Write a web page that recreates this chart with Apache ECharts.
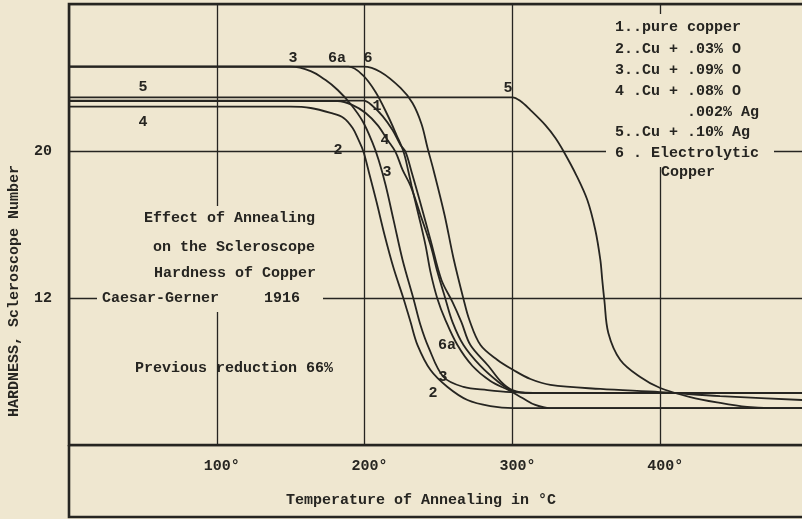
<!DOCTYPE html>
<html><head><meta charset="utf-8">
<script src="https://cdn.jsdelivr.net/npm/echarts@6/dist/echarts.min.js"></script>
<style>html,body{margin:0;padding:0;background:#efe7d0}#c{width:802px;height:519px}</style>
</head><body><div id="c"></div><script>
// Temperature (°C) vs Scleroscope hardness
const curve1 = [[0,22.74],[199.3,22.74],[205.4,22.45],[212.2,21.9],[218.9,21.14],[224.3,20.33],[227.7,19.95],[231.8,18.86],[237.2,17.33],[244.6,15.16],[252.0,12.98],[259.5,11.78],[265.5,10.69],[271.6,9.44],[283.8,8.3],[291.9,7.48],[300,6.99],[312.2,6.83],[500,6.83]];
const curve2 = [[0,22.41],[150,22.41],[163.5,22.34],[177,22.07],[185.8,21.8],[191.9,21.25],[195.9,20.6],[199.3,19.95],[203.4,18.69],[208.1,17.22],[213.5,15.43],[219.6,13.63],[226.4,11.95],[231.1,10.69],[235.8,9.44],[244.6,8.08],[256.1,7.16],[269.6,6.45],[285.1,6.12],[300.7,6.01],[500,6.01]];
const curve3 = [[0,24.59],[150,24.59],[163.5,24.35],[173.6,23.86],[181.8,23.32],[190.5,22.56],[198.6,21.63],[205.4,20.44],[209.5,19.51],[214.2,18.15],[219.6,16.24],[225.7,14.07],[233.1,11.95],[237.8,10.53],[243.2,9.33],[253.4,7.7],[266.9,7.16],[283.1,6.99],[298.6,6.88],[320,6.84],[500,6.83]];
const curve4 = [[0,22.72],[181.8,22.72],[191.9,22.5],[200.7,22.07],[208.8,21.41],[215.5,20.6],[220.9,19.95],[225.7,18.97],[231.1,18.1],[237.8,16.52],[244.6,14.88],[249.3,13.41],[254.7,11.95],[259.5,10.69],[266.9,9.44],[278.4,8.3],[290.5,7.43],[300,6.94],[312.2,6.83],[500,6.83]];
const curve5 = [[0,22.92],[300,22.92],[305.4,22.72],[312.2,22.23],[322.3,21.41],[329.1,20.71],[334.5,20],[343.2,18.69],[350.7,17.33],[356.1,15.7],[359.5,14.07],[360.8,12.98],[362.2,11.89],[364.9,10.1],[373,8.63],[386.5,7.7],[400,7.1],[420.3,6.61],[440.5,6.29],[458.8,6.07],[474.3,6.01],[500,6.01]];
const curve6 = [[0,24.59],[199.3,24.59],[210.8,24.3],[224.3,23.43],[232.4,22.61],[238.5,21.47],[242.6,20.16],[246.6,18.97],[254.1,16.52],[260.1,14.18],[266.9,11.95],[270.9,10.8],[278.4,9.44],[289.9,8.63],[300.7,8.08],[312.2,7.59],[325.7,7.27],[359.5,7.05],[400,6.88],[440.5,6.66],[496,6.45],[500,6.43]];
const curve6a = [[0,24.59],[189.2,24.59],[198.6,24.14],[207.4,23.21],[215.5,21.96],[221.6,20.87],[226.4,19.95],[229.7,18.86],[231.8,18.1],[236.5,16.52],[241.2,14.88],[244.6,13.41],[249.3,11.95],[254.7,10.8],[262.8,9.44],[273,8.3],[285.1,7.48],[297.3,6.99],[306.8,6.56],[315.5,6.18],[325.7,6.01],[500,6.01]];
const curveLabels = [[151.6,25.06,'3'],[181.3,25.06,'6a'],[202.3,25.06,'6'],[50.1,23.48,'5'],[50.1,21.58,'4'],[208.4,22.45,'1'],[213.8,20.6,'4'],[215.2,18.86,'3'],[182.0,20.05,'2'],[297.0,23.43,'5'],[255.8,9.44,'6a'],[253.0,7.7,'3'],[246.3,6.83,'2']];
const xTickLabels = [100,200,300,400];
const yTickLabels = [12,20];
const legendLines = ['1..pure copper','2..Cu + .03% O','3..Cu + .09% O','4 .Cu + .08% O','        .002% Ag','5..Cu + .10% Ag','6 . Electrolytic'];
const noteLines = ['Effect of Annealing','on the Scleroscope','Hardness of Copper'];

const BG = '#efe7d0', INK = '#262521';
const FONT = '"Liberation Mono", "DejaVu Sans Mono", monospace';
const chart = echarts.init(document.getElementById('c'));
const curves = [curve1, curve2, curve3, curve4, curve5, curve6, curve6a];
const series = curves.map(d => ({
  type: 'line', data: d, symbol: 'none', smooth: 0.35,
  lineStyle: { color: INK, width: 1.8 }, z: 5, silent: true
}));
series.push({
  type: 'scatter', data: curveLabels, symbolSize: 1, itemStyle: { color: 'rgba(0,0,0,0)', opacity: 1 }, z: 6, silent: true,
  label: { show: true, position: 'inside', opacity: 1, formatter: p => p.value[2], color: INK, fontFamily: FONT, fontSize: 15, fontWeight: 'bold', textBorderWidth: 0 }
});
const txt = (x, y, text, align, extra) => Object.assign({
  type: 'text', x, y, z: 20,
  style: { text, align: align || 'left', verticalAlign: 'middle', fill: INK, font: 'bold 15px ' + FONT }
}, extra || {});
const graphics = [
  { type: 'rect', z: 15, shape: { x: 97, y: 206, width: 226, height: 106 }, style: { fill: BG } },
  { type: 'rect', z: 15, shape: { x: 606, y: 14, width: 168, height: 153 }, style: { fill: BG } },
  { type: 'polyline', z: 15, shape: { points: [[69,445],[69,517],[812,517]] }, style: { stroke: INK, lineWidth: 2.6, fill: null } },
  txt(315, 218, noteLines[0], 'right'),
  txt(315, 247, noteLines[1], 'right'),
  txt(316, 273, noteLines[2], 'right'),
  txt(102, 298, 'Caesar-Gerner     1916'),
  txt(135, 368, 'Previous reduction 66%'),
  txt(421, 500, 'Temperature of Annealing in °C', 'center'),
  txt(661, 172, 'Copper'),
  { type: 'text', x: 14, y: 291, rotation: Math.PI / 2, z: 20,
    style: { text: 'HARDNESS, Scleroscope Number', align: 'center', verticalAlign: 'middle', fill: INK, font: 'bold 15px ' + FONT } }
];
legendLines.forEach((s, i) => graphics.push(txt(615, [27,49,70,91,112,132,153][i], s)));
chart.setOption({
  backgroundColor: BG,
  animation: false,
  grid: { left: 69, top: 4, width: 739, height: 441, outerBoundsMode: 'none', containLabel: false,
    show: true, borderColor: INK, borderWidth: 2.6, backgroundColor: 'transparent' },
  xAxis: { type: 'value', min: 0, max: 500, interval: 100,
    axisLine: { show: false }, axisTick: { show: false },
    axisLabel: { margin: 14, color: INK, fontFamily: FONT, fontSize: 15, fontWeight: 'bold', padding: [0,0,0,10],
      formatter: v => xTickLabels.indexOf(v) >= 0 ? v + '°' : '' },
    splitLine: { show: true, lineStyle: { color: INK, width: 1.3 } } },
  yAxis: { type: 'value', min: 4, max: 28, interval: 8,
    axisLine: { show: false }, axisTick: { show: false },
    axisLabel: { margin: 17, color: INK, fontFamily: FONT, fontSize: 15, fontWeight: 'bold',
      formatter: v => yTickLabels.indexOf(v) >= 0 ? String(v) : '' },
    splitLine: { show: true, lineStyle: { color: INK, width: 1.3 } } },
  graphic: graphics,
  series
});
</script></body></html>
